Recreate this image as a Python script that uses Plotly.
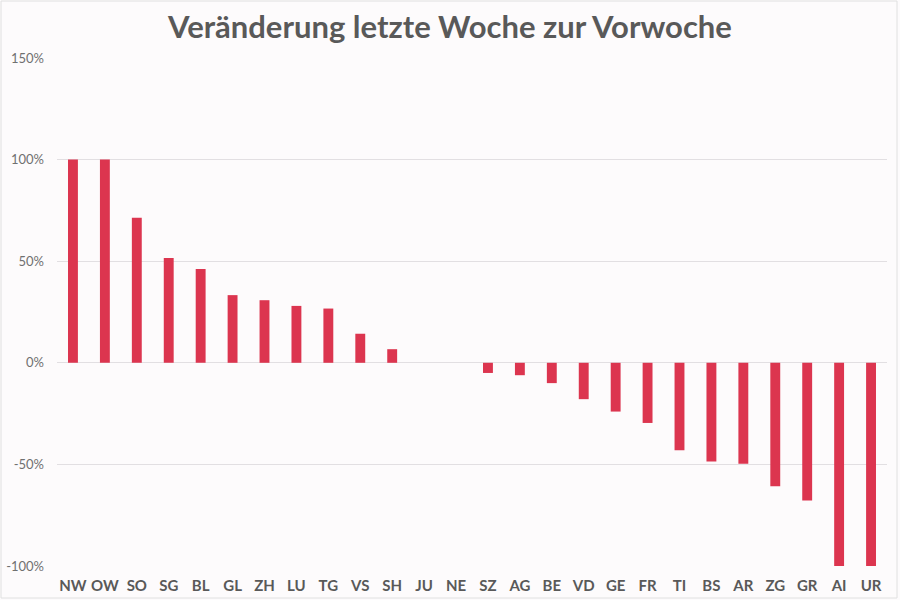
import plotly.graph_objects as go

categories = ["NW", "OW", "SO", "SG", "BL", "GL", "ZH", "LU", "TG", "VS", "SH", "JU", "NE",
              "SZ", "AG", "BE", "VD", "GE", "FR", "TI", "BS", "AR", "ZG", "GR", "AI", "UR"]
values = [100, 100, 71.4, 51.6, 46.2, 33.3, 30.8, 28.0, 26.7, 14.3, 6.7, 0, 0,
          -5.0, -6.1, -10.0, -17.9, -24.0, -29.6, -43.0, -48.6, -49.7, -60.7, -67.8, -100, -100]
tick_vals = [-100, -50, 0, 50, 100, 150]
tick_text = ["-100%", "-50%", "0%", "50%", "100%", "150%"]
title_text = "Veränderung letzte Woche zur Vorwoche"

L, R, T, B = 57, 13, 58, 34
W, H = 900, 600
pw, ph = W - L - R, H - T - B

def px_x(p):
    return (p - L) / pw

def px_y(p):
    return (H - B - p) / ph

fig = go.Figure()
fig.add_trace(go.Bar(
    x=categories, y=values, width=0.31,
    marker=dict(color="#dc354f", line=dict(width=0)),
    hovertemplate="%{x}: %{y}%<extra></extra>",
))

fig.update_layout(
    width=W, height=H,
    paper_bgcolor="#fdfbfc", plot_bgcolor="#fdfbfc",
    margin=dict(l=L, r=R, t=T, b=B, autoexpand=False),
    title=dict(text="<b>" + title_text + "</b>", x=0.5, xanchor="center", y=0.955, yanchor="middle",
               font=dict(family="Lato", size=31, color="#595959")),
    showlegend=False,
    xaxis=dict(
        tickfont=dict(family="Lato", size=15, color="#595959", weight="bold"),
        showgrid=False, zeroline=False, showline=False, ticks="",
        range=[-0.5, 25.5], automargin=False, ticklabelstandoff=9,
    ),
    yaxis=dict(
        range=[-100, 150], tickvals=tick_vals, ticktext=tick_text,
        tickfont=dict(family="Lato", size=13, color="#707070"),
        showgrid=True, gridcolor="#e2dfe2", gridwidth=1,
        zeroline=True, zerolinecolor="#e2dfe2", zerolinewidth=1,
        showline=False, ticks="", ticklabelstandoff=12, automargin=False,
    ),
    shapes=[dict(type="rect", xref="paper", yref="paper",
                 x0=px_x(1), x1=px_x(897), y0=px_y(598), y1=px_y(1),
                 line=dict(color="#e0e0e0", width=1), fillcolor="rgba(0,0,0,0)", layer="below")],
)

fig.write_html("out.html")
